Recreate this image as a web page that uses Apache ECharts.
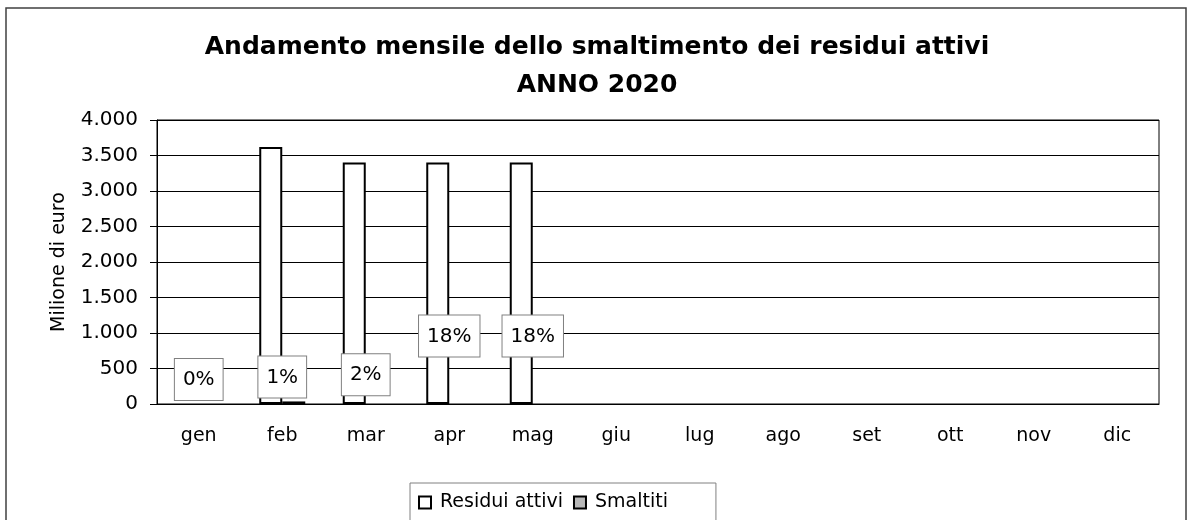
<!DOCTYPE html>
<html>
<head>
<meta charset="utf-8">
<script src="https://cdn.jsdelivr.net/npm/echarts@6/dist/echarts.min.js"></script>
<style>
  html, body { margin: 0; padding: 0; background: #fff; }
  #chart { width: 1194px; height: 520px; }
</style>
</head>
<body>
<div id="chart"></div>
<script>
  // dati
  var mesi = ['gen', 'feb', 'mar', 'apr', 'mag', 'giu', 'lug', 'ago', 'set', 'ott', 'nov', 'dic']
  var residuiAttivi = [null, 3620, 3400, 3400, 3400]
  var smaltiti = [null, 36, null, null, null] // barre visibili
  var smaltitiEtichette = [0, 36, 68, 612, 612] // posizione delle percentuali
  var percentuali = ['0%', '1%', '2%', '18%', '18%']

  var font = 'DejaVu Sans, Verdana, sans-serif'
  var chart = echarts.init(document.getElementById('chart'))

  var options = {
    animation: false,
    backgroundColor: '#fff',
    textStyle: { fontFamily: font, color: '#000' },
    title: {
      text: 'Andamento mensile dello smaltimento dei residui attivi\nANNO 2020',
      left: 'center',
      top: 23,
      textStyle: { fontFamily: font, fontSize: 25, fontWeight: 'bold', lineHeight: 38, color: '#000' }
    },
    legend: {
      data: ['Residui attivi', 'Smaltiti'],
      left: 410,
      top: 483,
      padding: [10, 48, 14, 8],
      itemWidth: 12,
      itemHeight: 12,
      itemGap: 10,
      borderColor: '#808080',
      borderWidth: 1,
      icon: 'rect',
      textStyle: { fontFamily: font, fontSize: 19, color: '#000', padding: [0, 0, 0, 4] }
    },
    grid: {
      left: 157,
      right: 35,
      top: 120,
      bottom: 116,
      show: true,
      borderColor: '#000',
      borderWidth: 1
    },
    xAxis: [
      {
        type: 'category',
        data: mesi,
        axisLine: { lineStyle: { color: '#000', width: 1 } },
        axisTick: { length: 6, lineStyle: { color: '#000' } },
        axisLabel: { fontSize: 19, color: '#000', margin: 23 }
      },
      {
        type: 'category',
        data: mesi,
        position: 'bottom',
        axisLine: { show: false },
        axisTick: { alignWithLabel: true, length: 3, lineStyle: { color: '#000' } },
        axisLabel: { show: false }
      }
    ],
    yAxis: {
      type: 'value',
      min: 0,
      max: 4000,
      interval: 500,
      name: 'Milione di euro',
      nameLocation: 'middle',
      nameGap: 88,
      nameTextStyle: { fontSize: 19, color: '#000' },
      axisLine: { show: true, lineStyle: { color: '#000', width: 1 } },
      axisTick: { show: true, length: 7, lineStyle: { color: '#000' } },
      axisLabel: {
        fontSize: 20,
        color: '#000',
        margin: 19,
        formatter: function(v) {
          return String(v).replace(/\B(?=(\d{3})+(?!\d))/g, '.')
        }
      },
      splitLine: { show: true, lineStyle: { color: '#000', width: 1 } }
    },
    series: [
      {
        name: 'Residui attivi',
        type: 'bar',
        data: residuiAttivi,
        barWidth: 23,
        barGap: 0,
        itemStyle: { color: '#fff', borderColor: '#000', borderWidth: 2 }
      },
      {
        name: 'Smaltiti',
        type: 'bar',
        data: smaltiti,
        barWidth: 23,
        itemStyle: { color: '#b8b8b8', borderColor: '#000', borderWidth: 2 }
      },
      {
        name: 'etichette',
        type: 'bar',
        xAxisIndex: 1,
        data: smaltitiEtichette,
        barWidth: 23,
        silent: true,
        z: 5,
        itemStyle: { color: 'rgba(0,0,0,0)' },
        label: {
          show: true,
          position: 'top',
          distance: 4,
          fontSize: 20,
          color: '#000',
          backgroundColor: '#fff',
          borderColor: '#808080',
          borderWidth: 1,
          padding: [11, 8, 10, 8],
          formatter: function(p) {
            return percentuali[p.dataIndex]
          }
        }
      }
    ],
    graphic: [
      {
        type: 'rect',
        shape: { x: 6, y: 8, width: 1180, height: 530 },
        style: { fill: 'none', stroke: '#404040', lineWidth: 1.5 },
        silent: true
      }
    ]
  }

  chart.setOption(options)
</script>
</body>
</html>
